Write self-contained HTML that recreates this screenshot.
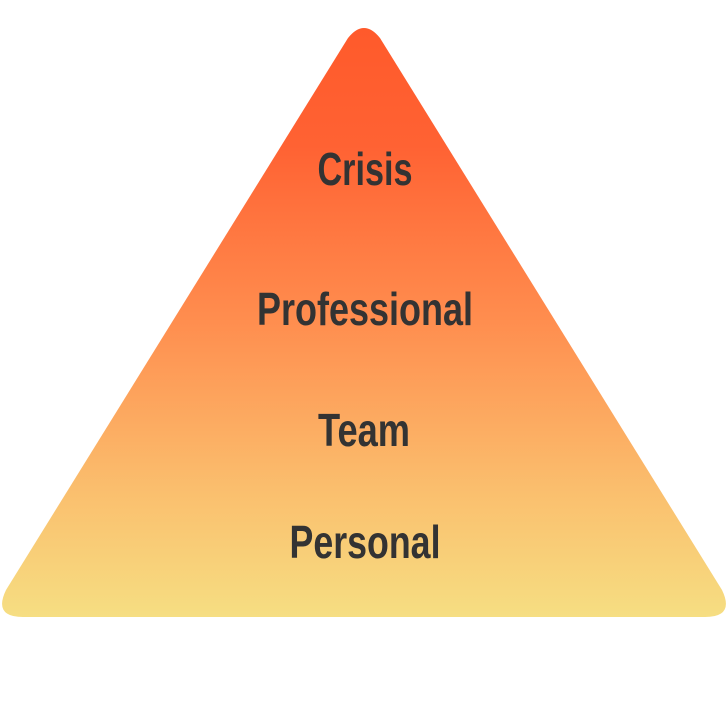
<!DOCTYPE html>
<html><head><meta charset="utf-8"><style>html,body{margin:0;padding:0;background:#fff;width:728px;height:702px;overflow:hidden}</style></head>
<body>
<svg width="728" height="702" viewBox="0 0 728 702" xmlns="http://www.w3.org/2000/svg">
<defs><linearGradient id="g" x1="0" y1="0" x2="0" y2="1">
<stop offset="0" stop-color="#FF5A2B"/><stop offset="0.2" stop-color="#FF6233"/><stop offset="0.5" stop-color="#FF8E4F"/><stop offset="0.8" stop-color="#FAC16F"/><stop offset="1" stop-color="#F6DE82"/></linearGradient></defs>
<path d="M348,38 Q364,18 380,38 L722,590 Q735,617 705,617 L23,617 Q-7,617 6,590 Z" fill="url(#g)"/>
<g font-family="'Liberation Sans Narrow','Liberation Sans',sans-serif" font-weight="bold" font-size="46" fill="#333" text-anchor="middle">
<text x="365" y="185" textLength="95" lengthAdjust="spacingAndGlyphs">Crisis</text>
<text x="365" y="325" textLength="216" lengthAdjust="spacingAndGlyphs">Professional</text>
<text x="364" y="446" textLength="92" lengthAdjust="spacingAndGlyphs">Team</text>
<text x="365" y="558" textLength="151" lengthAdjust="spacingAndGlyphs">Personal</text>
</g>
</svg>
</body></html>
